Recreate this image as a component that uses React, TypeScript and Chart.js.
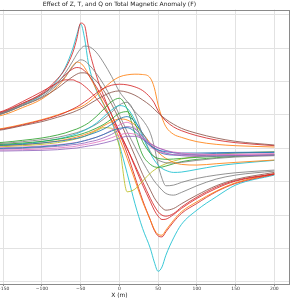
import { useEffect, useRef } from "react";
import { Chart, registerables } from "chart.js";

Chart.register(...registerables);

const TITLE = "Effect of Z, T, and Q on Total Magnetic Anomaly (F)";
const X_LABEL = "X (m)";
const X_TICKS = [-200, -150, -100, -50, 0, 50, 100, 150, 200];
const Y_GRID = [-400, -300, -200, -100, 0, 100, 200, 300, 400];

// sample positions along the profile (m)
const X_M = [-200, -150, -125, -100, -80, -70, -60, -55, -50, -45, -40, -30, -20, -10, 0, 10, 20, 30, 40, 45, 50, 55, 60, 70, 80, 100, 125, 150, 200];

// large anomalies
const cyanBig = [78, 105, 130, 160, 205, 242, 300, 340, 372, 330, 255, 175, 130, 80, 10, -75, -165, -240, -300, -340, -368, -355, -320, -268, -228, -185, -145, -110, -80];
const redBig = [80, 110, 135, 165, 208, 238, 288, 328, 375, 368, 305, 220, 155, 100, 45, -15, -85, -155, -215, -245, -262, -265, -250, -220, -195, -165, -130, -105, -78];
const orangeBig = [75, 100, 122, 148, 185, 212, 248, 258, 255, 242, 222, 178, 132, 82, 30, -30, -95, -160, -215, -242, -258, -260, -245, -215, -190, -160, -128, -103, -76];
const grayBig = [80, 108, 132, 160, 195, 225, 262, 282, 298, 306, 305, 288, 255, 215, 170, 140, 110, 85, 45, 5, -50, -90, -112, -110, -102, -90, -80, -73, -65];
const grayMid = [78, 105, 128, 155, 190, 215, 245, 258, 265, 262, 252, 225, 190, 148, 100, 50, 5, -40, -80, -98, -112, -125, -135, -140, -132, -112, -92, -80, -68];
const brownMid = [78, 105, 128, 152, 180, 198, 215, 222, 226, 226, 222, 202, 172, 132, 85, 32, -22, -78, -125, -148, -165, -178, -185, -180, -166, -140, -112, -93, -72];
const redMid = [82, 112, 140, 170, 196, 205, 205, 200, 195, 186, 176, 150, 120, 85, 45, 0, -50, -100, -150, -172, -190, -200, -203, -195, -176, -146, -116, -96, -76];
const redMid2 = [80, 108, 134, 162, 198, 220, 238, 242, 240, 232, 220, 185, 145, 100, 50, 0, -55, -110, -160, -185, -203, -213, -212, -198, -180, -150, -120, -98, -77];

// broad positive anomalies
const orangeWide = [45, 60, 72, 86, 100, 108, 116, 120, 124, 130, 138, 158, 180, 200, 214, 220, 222, 221, 210, 182, 130, 92, 65, 42, 33, 20, 12, 8, 4];
const redWide = [42, 58, 70, 84, 98, 107, 118, 124, 131, 139, 147, 165, 180, 189, 192, 190, 184, 173, 152, 136, 112, 95, 82, 64, 53, 38, 25, 17, 8];
const brownWide = [40, 56, 68, 80, 93, 100, 108, 113, 118, 124, 131, 145, 158, 168, 172, 168, 159, 145, 128, 117, 106, 96, 87, 72, 60, 45, 31, 21, 10];

// small anomalies
const greenBig = [12, 18, 24, 31, 40, 46, 54, 58, 63, 69, 76, 95, 118, 140, 150, 118, 45, -20, -48, -55, -57, -56, -53, -46, -40, -33, -28, -24, -20];
const oliveSmall = [3, 5, 8, 12, 17, 21, 26, 29, 32, 36, 41, 52, 62, 60, 5, -130, -122, -98, -74, -65, -57, -51, -46, -38, -32, -24, -18, -14, -10];
const cyanSmall = [5, 10, 14, 20, 28, 33, 40, 44, 49, 54, 60, 75, 95, 115, 128, 120, 85, 35, -15, -35, -50, -60, -66, -72, -71, -63, -53, -46, -36];
const orangeSmall = [4, 8, 11, 16, 22, 26, 31, 34, 37, 41, 45, 55, 68, 80, 88, 85, 70, 45, 15, 0, -12, -22, -30, -42, -48, -50, -46, -42, -35];
const blueSmall = [-2, 0, 2, 5, 9, 12, 15, 17, 20, 23, 26, 33, 42, 52, 60, 62, 50, 28, 8, 0, -5, -8, -10, -13, -14, -14, -13, -12, -11];
const pinkSmall = [-6, -5, -4, -2, 1, 3, 5, 7, 9, 11, 13, 18, 24, 32, 40, 45, 42, 30, 15, 8, 2, -2, -6, -11, -14, -17, -18, -18, -17];
const purpleSmall = [-8, -8, -7, -6, -4, -2, 0, 1, 3, 5, 7, 11, 16, 22, 30, 36, 36, 28, 14, 7, 1, -3, -7, -13, -17, -21, -22, -22, -20];
const greenSmall = [8, 12, 16, 21, 27, 31, 36, 39, 42, 46, 50, 60, 72, 88, 105, 110, 75, 20, -15, -25, -30, -32, -33, -32, -30, -27, -24, -22, -19];
const blueMid = [6, 9, 12, 16, 21, 24, 28, 30, 33, 36, 40, 48, 58, 72, 88, 95, 80, 45, 10, -2, -10, -15, -18, -20, -20, -18, -15, -14, -12];
const pinkMid = [0, 2, 4, 7, 11, 13, 16, 18, 20, 23, 26, 33, 42, 55, 70, 78, 62, 30, 5, -3, -9, -13, -16, -19, -20, -20, -19, -18, -16];
const purpleMid = [-3, -2, 0, 3, 6, 8, 11, 12, 14, 16, 19, 24, 32, 42, 55, 65, 58, 35, 10, 2, -5, -10, -14, -19, -22, -24, -23, -22, -20];
const graySmall = [10, 15, 20, 26, 33, 38, 44, 47, 51, 55, 60, 72, 88, 108, 130, 138, 105, 40, -10, -25, -35, -40, -43, -44, -42, -36, -30, -26, -22];

const BLUE = "#1f77b4", ORANGE = "#ff7f0e", GREEN = "#2ca02c", RED = "#d62728", PURPLE = "#9467bd";
const BROWN = "#8c564b", PINK = "#e377c2", GRAY = "#7f7f7f", OLIVE = "#bcbd22", CYAN = "#17becf";

const SERIES: { values: number[]; color: string }[] = [
  { values: purpleSmall, color: PURPLE },
  { values: pinkSmall, color: PINK },
  { values: blueSmall, color: BLUE },
  { values: purpleMid, color: PURPLE },
  { values: pinkMid, color: PINK },
  { values: blueMid, color: BLUE },
  { values: greenSmall, color: GREEN },
  { values: orangeSmall, color: ORANGE },
  { values: cyanSmall, color: CYAN },
  { values: graySmall, color: GRAY },
  { values: greenBig, color: GREEN },
  { values: oliveSmall, color: OLIVE },
  { values: brownWide, color: BROWN },
  { values: redWide, color: RED },
  { values: orangeWide, color: ORANGE },
  { values: grayMid, color: GRAY },
  { values: grayBig, color: GRAY },
  { values: brownMid, color: BROWN },
  { values: redMid, color: RED },
  { values: redMid2, color: RED },
  { values: orangeBig, color: ORANGE },
  { values: redBig, color: RED },
  { values: cyanBig, color: CYAN },
];

const framePlugin = {
  id: "frame",
  afterDraw(chart: any) {
    const { ctx, chartArea } = chart;
    const { left, top, right, bottom } = chartArea;
    ctx.save();
    ctx.strokeStyle = "#8a8a8a";
    ctx.lineWidth = 1;
    ctx.strokeRect(Math.round(left) + 0.5, Math.round(top) + 0.5, Math.round(right - left) - 1, Math.round(bottom - top) - 1);
    ctx.restore();
  },
};

export default function App() {
  const ref = useRef<HTMLCanvasElement | null>(null);
  useEffect(() => {
    if (!ref.current) return;
    Chart.defaults.font.family = "'DejaVu Sans', sans-serif";
    const chart = new Chart(ref.current, {
      type: "line",
      data: {
        datasets: SERIES.map((s) => ({
          data: X_M.map((x, i) => ({ x, y: s.values[i] })),
          borderColor: s.color,
          backgroundColor: s.color,
          borderWidth: 0.85,
          pointRadius: 0,
          fill: false,
          cubicInterpolationMode: "monotone" as const,
        })),
      },
      options: {
        animation: false,
        responsive: false,
        devicePixelRatio: 1,
        layout: { padding: { left: 0, right: 10.2, top: 0, bottom: 0 } },
        plugins: {
          legend: { display: false },
          tooltip: { enabled: false },
          title: {
            display: true,
            text: TITLE,
            color: "#222",
            font: { size: 6, weight: "normal", family: "'DejaVu Sans', sans-serif" },
            padding: { top: 1, bottom: 1.3 },
          },
        },
        scales: {
          x: {
            type: "linear",
            min: -220,
            max: 220,
            afterBuildTicks: (s: any) => {
              s.ticks = X_TICKS.map((v) => ({ value: v }));
            },
            afterFit: (s: any) => {
              s.height = 16;
            },
            grid: { color: "#e2e2e2", lineWidth: 1, drawTicks: true, tickLength: 2, tickColor: "#8a8a8a" },
            border: { display: false },
            ticks: {
              color: "#333",
              padding: 0.5,
              maxRotation: 0,
              autoSkip: false,
              font: { size: 4.5 },
              callback: (v: any) => String(v).replace("-", "\u2212"),
            },
            title: {
              display: true,
              text: X_LABEL,
              color: "#222",
              font: { size: 6 },
              padding: { top: 0, bottom: 1 },
            },
          },
          y: {
            type: "linear",
            min: -406,
            max: 415.6,
            afterBuildTicks: (s: any) => {
              s.ticks = Y_GRID.map((v) => ({ value: v }));
            },
            afterFit: (s: any) => {
              s.width = 0;
            },
            grid: { color: "#e2e2e2", lineWidth: 1, drawTicks: false },
            border: { display: false },
            ticks: { display: false },
          },
        },
      },
      plugins: [framePlugin],
    });
    return () => chart.destroy();
  }, []);

  return (
    <div style={{ position: "fixed", left: 0, top: 0, width: 300, height: 300, overflow: "hidden", background: "#fff" }}>
      <canvas
        ref={ref}
        width={351}
        height={300}
        style={{ position: "absolute", left: -51, top: 0, width: 351, height: 300 }}
      />
    </div>
  );
}
